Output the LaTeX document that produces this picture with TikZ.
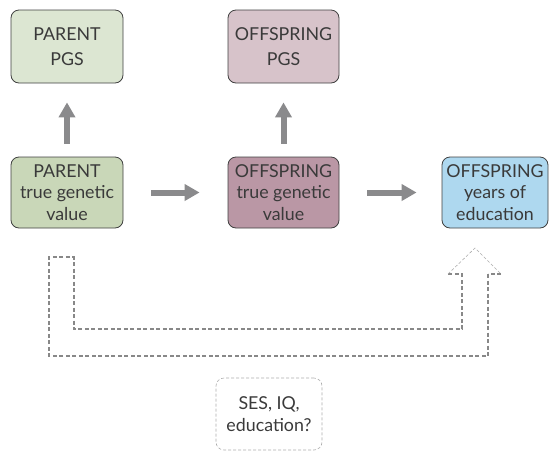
\documentclass[tikz,border=0pt]{standalone}
\usepackage{fontspec}
\setmainfont{Lato}
\usetikzlibrary{arrows.meta}
\definecolor{pgsA}{HTML}{DCE6D2}
\definecolor{trueA}{HTML}{C9D7B8}
\definecolor{pgsB}{HTML}{D7C3CA}
\definecolor{trueB}{HTML}{BA97A5}
\definecolor{eduC}{HTML}{AED8EF}
\definecolor{txt}{HTML}{3A3A3A}
\definecolor{arr}{HTML}{8A8A8C}
\definecolor{dashgray}{HTML}{888888}
\begin{document}
\begin{tikzpicture}[x=1pt,y=-1pt,
  box/.style={draw=black!75, line width=0.8pt, rounded corners=8pt, align=center, text=txt,
    inner sep=0pt},
  topbox/.style={box, minimum width=112pt, minimum height=73pt, font=\fontsize{17.8}{25}\selectfont},
  lowbox/.style={box, minimum width=112pt, minimum height=71pt, font=\fontsize{17.8}{21.5}\selectfont},
  bigarrow/.style={draw=arr, line width=6pt, -{Triangle[width=16pt,length=15pt]}},
  dashline/.style={dashgray, dash pattern=on 4pt off 2.5pt, line width=1.1pt},
]
\useasboundingbox (0,0) rectangle (550,451);
\node[topbox, fill=pgsA] (ppgs) at (67,46.5) {PARENT\\PGS};
\node[topbox, fill=pgsB, minimum width=111pt] (opgs) at (283.5,46.5) {OFFSPRING\\PGS};
\node[lowbox, fill=trueA] (ptrue) at (67,192.5) {PARENT\\true genetic\\value};
\node[lowbox, fill=trueB, minimum width=111pt] (otrue) at (283.5,192.5) {OFFSPRING\\true genetic\\value};
\node[lowbox, fill=eduC, minimum width=106pt] (edu) at (495,192.5) {OFFSPRING\\years of\\education};
\node[draw=dashgray!70, dash pattern=on 3pt off 2pt, line width=0.6pt, rounded corners=8pt, minimum width=106pt, minimum height=72pt,
  align=center, text=txt, inner sep=0pt, font=\fontsize{17.8}{21.5}\selectfont] (ses) at (269,414) {SES, IQ,\\education?};

\draw[bigarrow, shorten <=13pt, shorten >=19pt] (ptrue.north) -- (ppgs.south);
\draw[bigarrow, shorten <=13pt, shorten >=19pt] (otrue.north) -- (opgs.south);
\draw[bigarrow, shorten <=28pt, shorten >=28pt] (ptrue.east) -- (otrue.west);
\draw[bigarrow, shorten <=28pt, shorten >=25pt] (otrue.east) -- (edu.west);

% dashed broad arrow
\coordinate (h1) at (462,274);
\coordinate (h2) at (448,274);
\coordinate (tip) at (475,248);
\coordinate (h3) at (501,274);
\coordinate (h4) at (488,274);
\draw[dashline] (h4) -- (488,356) -- (49,356) -- (49,257) -- (74,257) -- (74,329) -- (462,329) -- (h1) -- (h2);
\draw[dashgray!70, dash pattern=on 3pt off 2pt, line width=0.6pt] (h2) -- (tip) -- (h3);
\draw[dashline] (h3) -- (h4);
\end{tikzpicture}
\end{document}
